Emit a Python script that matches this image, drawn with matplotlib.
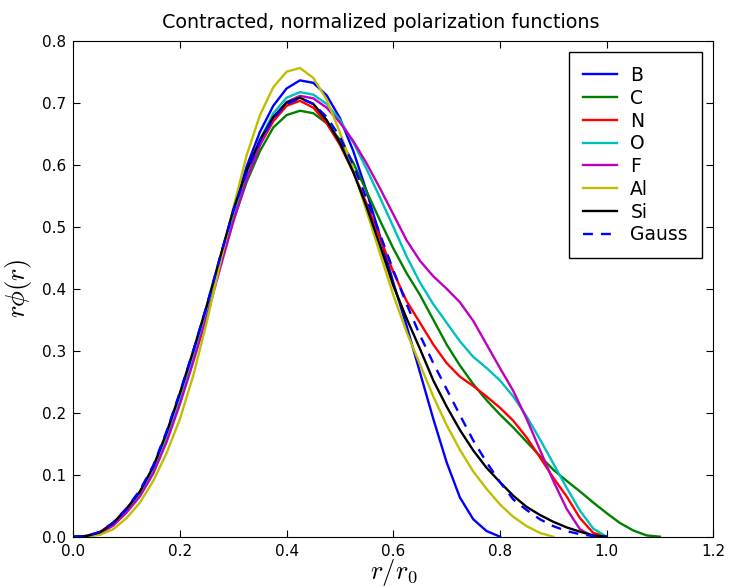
import matplotlib
matplotlib.use('Agg')
import matplotlib.pyplot as plt

plt.rcParams['mathtext.fontset'] = 'cm'

# r/r0 grid the curves were read on
r = [0.0, 0.025, 0.05, 0.075, 0.1, 0.125, 0.15, 0.175, 0.2, 0.225, 0.25,
     0.275, 0.3, 0.325, 0.35, 0.375, 0.4, 0.425, 0.45, 0.475, 0.5, 0.525,
     0.55, 0.575, 0.6, 0.625, 0.65, 0.675, 0.7, 0.725, 0.75, 0.775, 0.8,
     0.825, 0.85, 0.875, 0.9, 0.925, 0.95, 0.975, 1.0, 1.025, 1.05, 1.075, 1.1]

B = [0, .001, .007, .021, .044, .071, .11, .164, .227, .295, .368, .447, .525,
     .597, .653, .695, .723, .736,
     .732, .712, .675, .622, .557, .485, .41, .34, .265, .19, .12, .063, .028,
     .009, 0]
C = [0, .001, .007, .021, .044, .071, .11, .163, .225, .293, .364, .438, .51,
     .572, .622, .66, .68, .687,
     .683, .667, .64, .603, .557, .51, .465, .425, .39, .35, .31, .276, .246,
     .22, .197, .176, .153, .13, .108, .09, .073, .055, .038, .022, .01, .002, 0]
N = [0, .001, .007, .022, .045, .072, .111, .165, .228, .296, .366, .442, .517,
     .58, .632, .67, .695, .703,
     .692, .667, .632, .588, .537, .482, .427, .38, .345, .31, .28, .258, .243,
     .226, .208, .187, .16, .128, .095, .065, .03, .006, 0]
O = [0, .001, .006, .02, .042, .069, .107, .159, .22, .288, .36, .438, .515,
     .585, .64, .683, .708, .717,
     .713, .698, .672, .636, .593, .547, .50, .452, .41, .375, .345, .315, .29,
     .272, .252, .226, .194, .157, .118, .079, .042, .013, 0]
F = [0, .001, .005, .018, .039, .065, .102, .153, .214, .282, .354, .432, .508,
     .576, .632, .675, .701, .711,
     .707, .692, .668, .638, .602, .562, .52, .478, .445, .42, .40, .378, .348,
     .31, .272, .235, .19, .14, .09, .045, .012, 0]
Al = [0, 0, .003, .012, .03, .055, .09, .135, .19, .26, .345, .44, .53,
      .615, .68, .725, .75, .756,
      .74, .705, .652, .592, .525, .457, .39, .33, .278, .226, .18, .14, .105,
      .077, .052, .032, .017, .006, 0]
Si = [0, .001, .007, .022, .045, .073, .113, .168, .232, .30, .372, .45, .527,
      .59, .64, .677, .70, .708,
      .698, .672, .635, .588, .532, .47, .405, .352, .303, .252, .21, .172, .139,
      .111, .088, .066, .048, .035, .024, .015, .008, .002, 0]
Gauss = [0, .001, .008, .023, .046, .075, .115, .17, .233, .30, .372, .45, .525,
         .588, .638, .675, .698, .707,
         .698, .677, .645, .6, .545, .488, .43, .375, .325, .28, .238, .196, .155,
         .12, .088, .06, .043, .028, .017, .009, .004, .001, 0]

curves = [('B', B, (0, 0, 1)), ('C', C, (0, 0.5, 0)), ('N', N, (1, 0, 0)),
          ('O', O, (0, 0.75, 0.75)), ('F', F, (0.75, 0, 0.75)),
          ('Al', Al, (0.75, 0.75, 0)), ('Si', Si, (0, 0, 0))]

fig = plt.figure(figsize=(7.3, 5.88), dpi=100)
ax = fig.add_axes([0.1004, 0.0873, 0.8767, 0.8435])

for name, y, col in curves:
    ax.plot(r[:len(y)], y, color=col, lw=1.7, label=name)
ax.plot(r[:len(Gauss)], Gauss, color=(0, 0, 1), lw=1.7, dashes=(4.2, 3.4), label='Gauss')

ax.set_xlim(0, 1.2)
ax.set_ylim(0, 0.8)
ax.set_xticks([0.0, 0.2, 0.4, 0.6, 0.8, 1.0, 1.2])
ax.set_yticks([0.0, 0.1, 0.2, 0.3, 0.4, 0.5, 0.6, 0.7, 0.8])
ax.xaxis.set_major_formatter(matplotlib.ticker.FormatStrFormatter('%.1f'))
ax.yaxis.set_major_formatter(matplotlib.ticker.FormatStrFormatter('%.1f'))
ax.tick_params(direction='in', top=True, right=True, length=5, labelsize=11, pad=5)

# xlabel sits right at the bottom edge, as in the original
ax.set_xlabel(r'$r/r_0$', fontsize=19, labelpad=-1)
ax.set_ylabel(r'$r\phi(r)$', fontsize=19, labelpad=6)
ax.set_title('Contracted, normalized polarization functions', fontsize=13.8, pad=9, x=0.481)

leg = ax.legend(loc='upper right', fontsize=13.5, fancybox=False, framealpha=1,
                labelspacing=0.2, handlelength=1.8, handletextpad=0.7,
                borderpad=0.75, borderaxespad=0.6)
leg.get_frame().set_edgecolor('black')

fig.savefig('out.png', dpi=100)
